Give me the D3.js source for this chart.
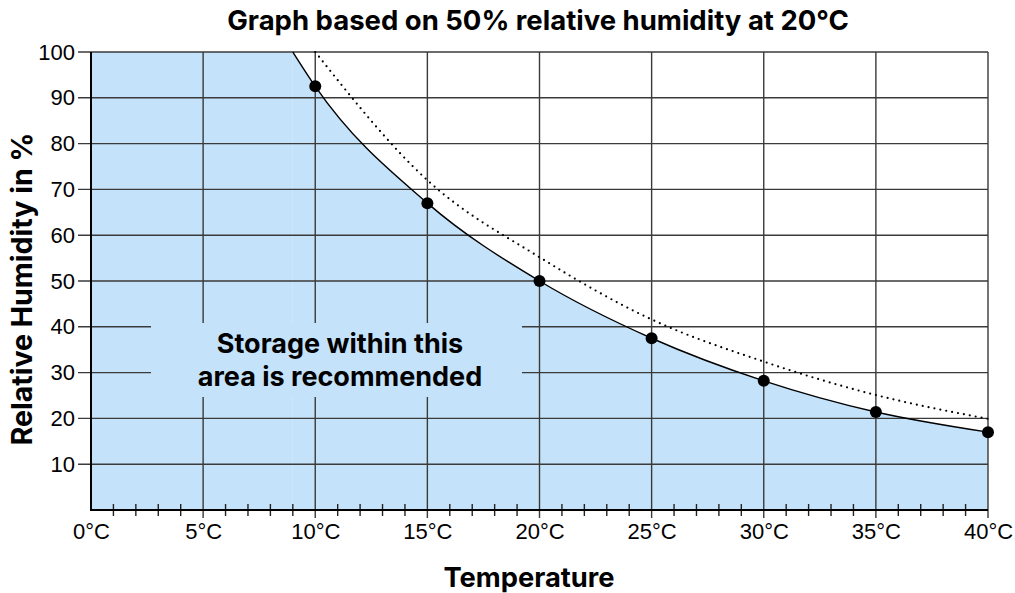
<!DOCTYPE html>
<html>
<head>
<meta charset="utf-8">
<script src="https://cdn.jsdelivr.net/npm/d3@7"></script>
<style>
  body { margin: 0; background: #fff; }
  svg { font-family: "Liberation Sans", Arial, Helvetica, sans-serif; }
  .bold { font-family: Inter, "Liberation Sans", Arial, sans-serif; font-weight: bold; }
</style>
</head>
<body>
<div id="chart"></div>
<script>
// data
const temps = [10, 15, 20, 25, 30, 35, 40];
const rhSolid = [92.5, 67, 50, 37.5, 28.2, 21.4, 17];
// where the solid curve leaves the top of the chart
const solidTop = [9, 100];
const rhDotted = [100, 72, 55.2, 41.6, 32.4, 25.1, 19.9];
const yTicks = [10, 20, 30, 40, 50, 60, 70, 80, 90, 100];
const xTicks = [0, 5, 10, 15, 20, 25, 30, 35, 40];

const width = 1015, height = 593;
const margin = { top: 52, right: 27, bottom: 83, left: 91 };
const fillColor = "#c4e3fb";
const gridColor = "#3a3a3a";

const x = d3.scaleLinear().domain([0, 40]).range([margin.left, width - margin.right]);
const y = d3.scaleLinear().domain([0, 100]).range([height - margin.bottom, margin.top]);

const svg = d3.select("#chart").append("svg")
  .attr("width", width)
  .attr("height", height);

const solidData = [solidTop].concat(temps.map((t, i) => [t, rhSolid[i]]));
const dottedData = temps.map((t, i) => [t, rhDotted[i]]);

// blue "recommended" area
svg.append("rect")
  .attr("x", x(0)).attr("y", y(100))
  .attr("width", x(solidTop[0]) - x(0))
  .attr("height", y(0) - y(100))
  .attr("fill", fillColor);

const area = d3.area()
  .x(d => x(d[0]))
  .y0(y(0))
  .y1(d => y(d[1]))
  .curve(d3.curveMonotoneX);

svg.append("path")
  .attr("d", area(solidData))
  .attr("fill", fillColor);

// grid
svg.append("g").selectAll("line")
  .data(yTicks)
  .join("line")
  .attr("x1", x(0) - 13).attr("x2", x(40))
  .attr("y1", d => y(d)).attr("y2", d => y(d))
  .attr("stroke", gridColor)
  .attr("stroke-width", 1.4);

svg.append("g").selectAll("line")
  .data(xTicks.slice(1))
  .join("line")
  .attr("x1", d => x(d)).attr("x2", d => x(d))
  .attr("y1", y(100)).attr("y2", y(0) + 8)
  .attr("stroke", gridColor)
  .attr("stroke-width", 1.4);

// minor ticks on the temperature axis
const minor = d3.range(1, 40).filter(d => d % 5 !== 0);
svg.append("g").selectAll("line")
  .data(minor)
  .join("line")
  .attr("x1", d => x(d)).attr("x2", d => x(d))
  .attr("y1", y(0) - 6).attr("y2", y(0) + 6)
  .attr("stroke", "#222")
  .attr("stroke-width", 1.4);

// box behind the note hides the grid
svg.append("rect")
  .attr("x", 151).attr("y", 323)
  .attr("width", 371).attr("height", 74)
  .attr("fill", fillColor);

svg.append("text")
  .attr("class", "bold")
  .attr("x", 340).attr("y", 353)
  .attr("text-anchor", "middle")
  .attr("font-size", 27)
  .selectAll("tspan")
  .data(["Storage within this", "area is recommended"])
  .join("tspan")
  .attr("x", 340)
  .attr("dy", (d, i) => i === 0 ? 0 : 33)
  .text(d => d);

// curves
const line = d3.line()
  .x(d => x(d[0]))
  .y(d => y(d[1]))
  .curve(d3.curveMonotoneX);

svg.append("path")
  .attr("d", line(dottedData))
  .attr("fill", "none")
  .attr("stroke", "#000")
  .attr("stroke-width", 2.2)
  .attr("stroke-linecap", "round")
  .attr("stroke-dasharray", "0 6");

svg.append("path")
  .attr("d", line(solidData))
  .attr("fill", "none")
  .attr("stroke", "#000")
  .attr("stroke-width", 1.4);

svg.append("g").selectAll("circle")
  .data(temps)
  .join("circle")
  .attr("cx", d => x(d))
  .attr("cy", (d, i) => y(rhSolid[i]))
  .attr("r", 6)
  .attr("fill", "#000");

// axes
const yAxis = svg.append("g")
  .attr("transform", `translate(${x(0) - 13},0)`)
  .call(d3.axisLeft(y).tickValues(yTicks).tickSize(0).tickPadding(3));
yAxis.select(".domain").remove();
yAxis.selectAll("text")
  .attr("font-size", 22)
  .attr("font-family", "Liberation Sans, Arial, sans-serif")
  .attr("fill", "#000");

const xAxis = svg.append("g")
  .attr("transform", `translate(0,${y(0)})`)
  .call(d3.axisBottom(x).tickValues(xTicks).tickSize(0).tickPadding(13)
    .tickFormat(d => d + "°C"));
xAxis.select(".domain").remove();
xAxis.selectAll("text")
  .attr("font-size", 22)
  .attr("font-family", "Liberation Sans, Arial, sans-serif")
  .attr("fill", "#000");

svg.append("line")
  .attr("x1", x(0)).attr("x2", x(40))
  .attr("y1", y(0)).attr("y2", y(0))
  .attr("stroke", "#000").attr("stroke-width", 2);
svg.append("line")
  .attr("x1", x(0)).attr("x2", x(0))
  .attr("y1", y(100)).attr("y2", y(0) + 1)
  .attr("stroke", "#000").attr("stroke-width", 2);

// titles
svg.append("text")
  .attr("class", "bold")
  .attr("x", 538).attr("y", 30)
  .attr("text-anchor", "middle")
  .attr("font-size", 27.5)
  .text("Graph based on 50% relative humidity at 20°C");

svg.append("text")
  .attr("class", "bold")
  .attr("x", 529).attr("y", 587)
  .attr("text-anchor", "middle")
  .attr("font-size", 27.3)
  .text("Temperature");

svg.append("text")
  .attr("class", "bold")
  .attr("transform", "translate(32,289) rotate(-90)")
  .attr("text-anchor", "middle")
  .attr("font-size", 28.5)
  .text("Relative Humidity in %");
</script>
</body>
</html>
